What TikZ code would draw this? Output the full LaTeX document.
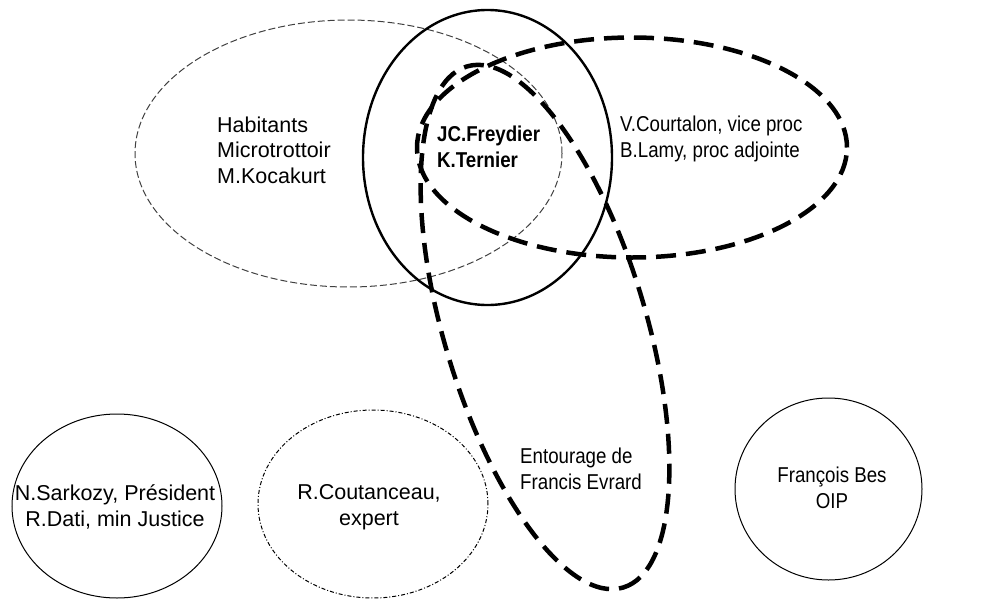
\documentclass[tikz,border=0pt]{standalone}
\usepackage{fontspec}
\setmainfont{Liberation Sans}
\newfontfamily\narrowsf[FakeStretch=0.87]{Liberation Sans}
\usepackage{tikz}
\usetikzlibrary{positioning}

\begin{document}
\begin{tikzpicture}[x=1pt, y=-1pt,
		who/.style={inner sep=0pt, align=left, font=\fontsize{21.5}{25.5}\selectfont},
		narrowwho/.style={inner sep=0pt, align=left, font=\narrowsf\fontsize{21.5}{25.5}\selectfont},
		thinset/.style={draw=black!75, line width=1pt, dash pattern=on 7pt off 3pt},
		coreset/.style={draw, line width=2.4pt},
		bigset/.style={draw, line width=4.5pt, dash pattern=on 20pt off 10pt},
		plainset/.style={draw, line width=1pt}]
		\useasboundingbox (0,0) rectangle (996,600);

		% Overlapping groups
		\draw[thinset] (348.5,153.5) ellipse [x radius=213.5pt, y radius=133.5pt];
		\draw[coreset] (487.5,157.5) ellipse [x radius=124.5pt, y radius=147.5pt];
		\draw[bigset] (632,147.5) ellipse [x radius=215pt, y radius=110pt];
		\draw[bigset, shift={(545,327)}, rotate=-73.3] (0,0) ellipse [x radius=272pt, y radius=101pt];

		% Separate groups
		\draw[plainset] (117,506) ellipse [x radius=105pt, y radius=92pt];
		\draw[plainset, dash pattern=on 4pt off 2pt on 1pt off 2pt] (373,504) ellipse [x radius=115pt, y radius=94pt];
		\draw[plainset] (828.5,489) ellipse [x radius=93.5pt, y radius=91pt];

		% Names
		\node[who, anchor=west] (habitants) at (217,150) {Habitants\\Microtrottoir\\M.Kocakurt};
		\node[narrowwho, anchor=west, font=\narrowsf\bfseries\fontsize{21.5}{25.5}\selectfont] (freydier) at (437,147) {JC.Freydier\\K.Ternier};
		\node[narrowwho, anchor=west] (courtalon) at (620,139) {V.Courtalon, vice proc\\B.Lamy, proc adjointe};
		\node[narrowwho, anchor=west] (entourage) at (520,469) {Entourage de\\Francis Evrard};
		\node[who, align=center] (sarkozy) at (115,507) {N.Sarkozy, Président\\R.Dati, min Justice};
		\node[who, align=center] (coutanceau) at (369,507) {R.Coutanceau,\\expert};
		\node[narrowwho, align=center] (bes) at (832,488) {François Bes\\OIP};
	\end{tikzpicture}
\end{document}
